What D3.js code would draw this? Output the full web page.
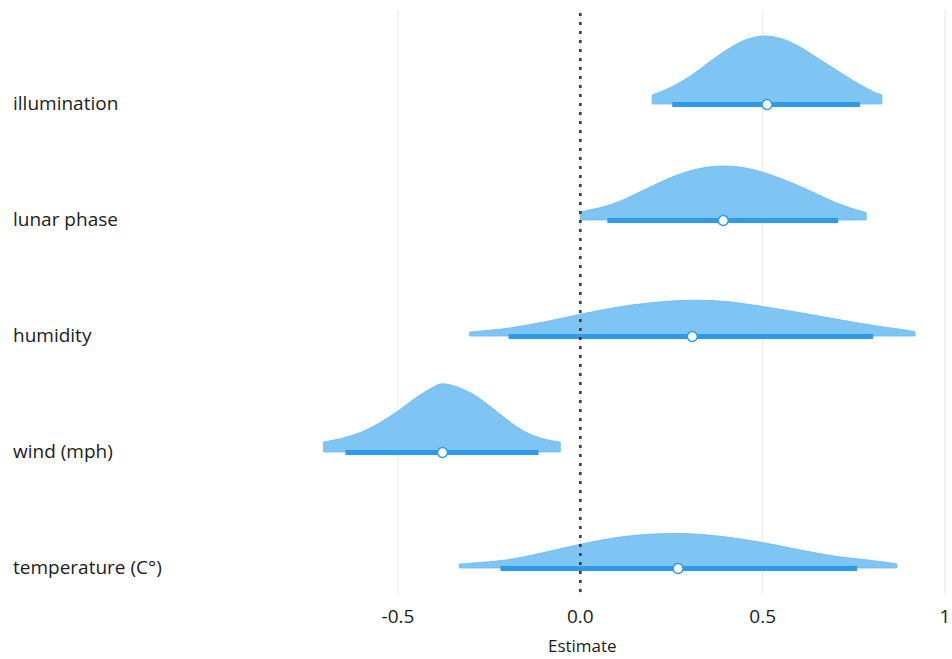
<!DOCTYPE html>
<html>
<head>
<meta charset="utf-8">
<script src="https://cdn.jsdelivr.net/npm/d3@7"></script>
<style>
  html, body { margin: 0; padding: 0; background: #ffffff; }
  svg { display: block; }
  text { font-family: "Open Sans", "DejaVu Sans", sans-serif; fill: #1c1c1c; }
</style>
</head>
<body>
<svg id="chart" width="952" height="659"></svg>
<script>
// ---- data ----
const categories = ["illumination", "lunar phase", "humidity", "wind (mph)", "temperature (C°)"];

// point estimates (white dots)
const estimates = [0.512, 0.392, 0.307, -0.378, 0.268];

// interval lower / upper (thick line)
const intervalLow  = [0.252, 0.074, -0.197, -0.644, -0.219];
const intervalHigh = [0.767, 0.707, 0.803, -0.115, 0.759];

// posterior density samples: [estimate value, density]
const densIllumination = [[0.197,0.36],[0.25,0.68],[0.30,1.10],[0.35,1.64],[0.40,2.15],[0.45,2.55],[0.50,2.72],[0.55,2.62],[0.60,2.30],[0.65,1.84],[0.70,1.38],[0.75,0.92],[0.80,0.52],[0.827,0.36]];
const densLunar = [[0.0,0.33],[0.05,0.48],[0.10,0.70],[0.15,1.03],[0.20,1.38],[0.25,1.71],[0.30,1.96],[0.35,2.12],[0.40,2.16],[0.45,2.09],[0.50,1.91],[0.55,1.66],[0.60,1.36],[0.65,1.03],[0.70,0.70],[0.75,0.44],[0.784,0.30]];
const densHumidity = [[-0.304,0.16],[-0.2,0.31],[-0.1,0.56],[0.0,0.87],[0.1,1.15],[0.2,1.34],[0.3,1.43],[0.4,1.38],[0.5,1.18],[0.6,0.94],[0.7,0.68],[0.8,0.43],[0.9,0.22],[0.918,0.17]];
const densWind = [[-0.704,0.40],[-0.65,0.56],[-0.60,0.80],[-0.55,1.17],[-0.50,1.64],[-0.45,2.18],[-0.40,2.62],[-0.384,2.72],[-0.35,2.66],[-0.30,2.36],[-0.25,1.86],[-0.20,1.28],[-0.15,0.80],[-0.10,0.52],[-0.055,0.40]];
const densTemperature = [[-0.332,0.16],[-0.2,0.33],[-0.1,0.62],[0.0,0.95],[0.1,1.22],[0.2,1.36],[0.3,1.37],[0.4,1.24],[0.5,1.02],[0.6,0.73],[0.7,0.47],[0.8,0.30],[0.868,0.17]];
const densities = [densIllumination, densLunar, densHumidity, densWind, densTemperature];

const xTicks = [-0.5, 0.0, 0.5, 1];
const xTickLabels = ["-0.5", "0.0", "0.5", "1"];
const xTitle = "Estimate";

// ---- layout ----
const svg = d3.select("#chart");
const plotTop = 10, plotBottom = 594;

const x = d3.scaleLinear().domain([-0.5, 1]).range([398, 945]);
const y = d3.scalePoint().domain(categories).range([104, 568]);
const h = d3.scaleLinear().domain([0, 2.72]).range([0, 68]);

const slabFill = "#7fc5f4";
const slabStroke = "#6ab8ef";
const intervalColor = "#2e9ae8";

// gridlines
svg.append("g")
  .selectAll("line")
  .data(xTicks)
  .join("line")
  .attr("x1", d => x(d)).attr("x2", d => x(d))
  .attr("y1", plotTop).attr("y2", plotBottom)
  .attr("stroke", "#e6e6e6")
  .attr("stroke-width", 1);

// slabs
const area = d3.area()
  .x(d => x(d[0]))
  .y1(d => -h(d[1]))
  .y0(0)
  .curve(d3.curveCatmullRom.alpha(0.5));

const rows = svg.append("g")
  .selectAll("g")
  .data(categories.map((c, i) => ({c, i})))
  .join("g")
  .attr("transform", d => `translate(0,${y(d.c)})`);

rows.append("path")
  .attr("d", d => area(densities[d.i]))
  .attr("fill", slabFill)
  .attr("stroke", slabStroke)
  .attr("stroke-width", 0.8);

rows.append("line")
  .attr("x1", d => x(intervalLow[d.i]))
  .attr("x2", d => x(intervalHigh[d.i]))
  .attr("y1", 0.5).attr("y2", 0.5)
  .attr("stroke", intervalColor)
  .attr("stroke-width", 5);

// zero reference line (drawn above slabs)
svg.append("line")
  .attr("x1", x(0)).attr("x2", x(0))
  .attr("y1", plotTop + 3).attr("y2", plotBottom)
  .attr("stroke", "#3d3d3d")
  .attr("stroke-width", 2.6)
  .attr("stroke-dasharray", "3 6");

rows.append("circle")
  .attr("cx", d => x(estimates[d.i]))
  .attr("cy", 0.5)
  .attr("r", 5)
  .attr("fill", "#ffffff")
  .attr("stroke", intervalColor)
  .attr("stroke-width", 1.5);

// category labels
svg.append("g")
  .selectAll("text")
  .data(categories)
  .join("text")
  .attr("x", 13)
  .attr("y", d => y(d))
  .attr("dy", "0.3em")
  .attr("font-size", 19)
  .text(d => d);

// x axis labels
svg.append("g")
  .selectAll("text")
  .data(xTicks)
  .join("text")
  .attr("x", d => x(d))
  .attr("y", 623)
  .attr("text-anchor", "middle")
  .attr("font-size", 19)
  .text((d, i) => xTickLabels[i]);

svg.append("text")
  .attr("x", x(0) + 2)
  .attr("y", 652)
  .attr("text-anchor", "middle")
  .attr("font-size", 17)
  .text(xTitle);
</script>
</body>
</html>
